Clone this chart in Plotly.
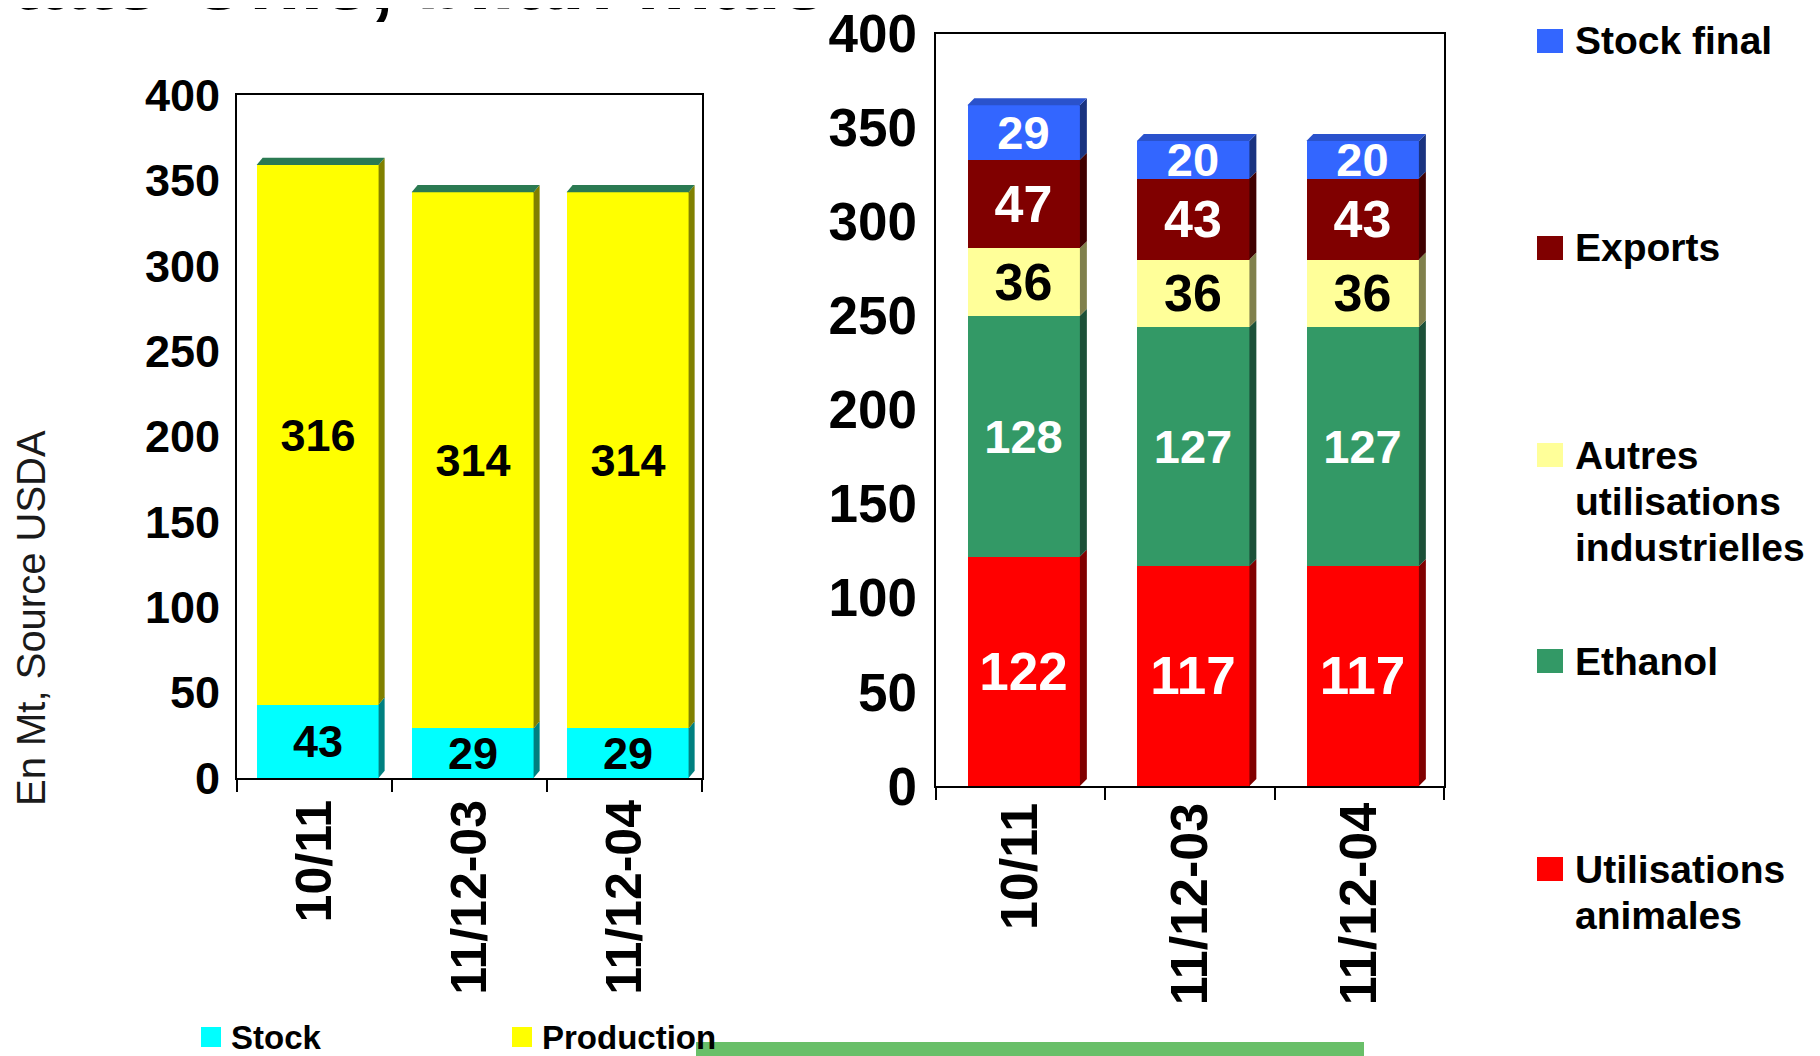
import plotly.graph_objects as go

# la page html garde une marge de 8 px autour de la figure
OFF = 8
W, H = 1820 - OFF, 1056 - OFF

categories = ["10/11", "11/12-03", "11/12-04"]

# gauche : ressources
stock_initial = [43, 29, 29]
production = [316, 314, 314]

# droite : utilisations (du bas vers le haut)
util_animales = [122, 117, 117]
ethanol = [128, 127, 127]
autres_industrielles = [36, 36, 36]
exports = [47, 43, 43]
stock_final = [29, 20, 20]

y_ticks = [0, 50, 100, 150, 200, 250, 300, 350, 400]

FONT = "Liberation Sans, Arial, sans-serif"


def px(x):
    return (x - OFF) / W


def py(y):
    return 1 - (y - OFF) / H


left_series = [
    # nom, valeurs, face, côté, couleur texte, taille texte
    ("Stock", stock_initial, "#00FFFF", "#008080", "black", 45),
    ("Production", production, "#FFFF00", "#808000", "black", 45),
]
right_series = [
    ("Utilisations animales", util_animales, "#FF0000", "#800000", "white", 53),
    ("Ethanol", ethanol, "#339966", "#1C5038", "white", 47),
    ("Autres utilisations industrielles", autres_industrielles, "#FFFF99", "#80804C", "black", 52),
    ("Exports", exports, "#800000", "#400000", "white", 52),
    ("Stock final", stock_final, "#3366FF", "#1A3380", "white", 47),
]

fig = go.Figure()
shapes = []


def add_stack(series, xref, yref, width, shift, dx, dy, top_color):
    base = [0] * len(categories)
    for name, vals, face, side, tcolor, tsize in series:
        fig.add_trace(go.Bar(
            x=list(range(len(categories))),
            y=vals,
            width=width,
            offset=-width / 2 + shift,
            name=name,
            marker=dict(color=face, line=dict(width=0)),
            text=[str(v) for v in vals],
            textposition="inside",
            insidetextanchor="middle",
            textangle=0,
            constraintext="none",
            textfont=dict(family=FONT, size=tsize, color=tcolor, weight="bold"),
            xaxis=xref, yaxis=yref,
            showlegend=False,
        ))
        # face latérale (effet 3D)
        for i, v in enumerate(vals):
            xr = i + shift + width / 2
            b, t = base[i], base[i] + v
            shapes.append(dict(
                type="path", xref=xref, yref=yref,
                path=f"M{xr},{b} L{xr + dx},{b + dy} L{xr + dx},{t + dy} L{xr},{t} Z",
                fillcolor=side, line=dict(width=0), layer="above"))
            base[i] = t
    # face supérieure
    for i, t in enumerate(base):
        xl, xr = i + shift - width / 2, i + shift + width / 2
        shapes.append(dict(
            type="path", xref=xref, yref=yref,
            path=f"M{xl},{t} L{xl + dx},{t + dy} L{xr + dx},{t + dy} L{xr},{t} Z",
            fillcolor=top_color, line=dict(width=0), layer="above"))


add_stack(left_series, "x", "y", 0.787, 0.02, 0.039, 4.3, "#2B7A52")
add_stack(right_series, "x2", "y2", 0.664, 0.02, 0.041, 3.7, "#2A52CC")


def xaxis(domain, anchor, size, standoff):
    return dict(
        domain=domain, anchor=anchor, range=[-0.5, 2.5], automargin=False,
        tickmode="array", tickvals=list(range(len(categories))), ticktext=categories,
        tickangle=-90, ticks="", ticklabelstandoff=standoff, ticklabeloverflow="allow",
        tickfont=dict(family=FONT, size=size, color="black", weight="bold"),
        minor=dict(tickmode="array", tickvals=[-0.5, 0.5, 1.5, 2.5], ticks="outside",
                   ticklen=12, tickwidth=2, tickcolor="black", showgrid=False),
        showline=True, linecolor="black", linewidth=2, mirror=True,
        showgrid=False, zeroline=False, fixedrange=True,
    )


def yaxis(domain, anchor, size):
    return dict(
        domain=domain, anchor=anchor, range=[0, 400], automargin=False,
        tickmode="array", tickvals=y_ticks, ticks="", ticklabelstandoff=6,
        ticklabeloverflow="allow",
        tickfont=dict(family=FONT, size=size, color="black", weight="bold"),
        showline=True, linecolor="black", linewidth=2, mirror=True,
        showgrid=False, zeroline=False, fixedrange=True,
    )


annotations = []

# titre de la diapositive (coupé en haut)
annotations.append(dict(
    text="Etats-Unis, bilan maïs", xref="paper", yref="paper",
    x=px(830), y=py(29), xanchor="right", yanchor="bottom", showarrow=False,
    font=dict(family=FONT, size=84, color="black", weight="bold")))

# titre axe vertical
annotations.append(dict(
    text="En Mt, Source USDA", xref="paper", yref="paper",
    x=px(31), y=py(618), xanchor="center", yanchor="middle", textangle=-90,
    showarrow=False, font=dict(family=FONT, size=40, color="#1a1a1a")))

# légende du bas (graphique de gauche)
bottom_legend = [("Stock", "#00FFFF", 201), ("Production", "#FFFF00", 512)]
for label, color, x0 in bottom_legend:
    shapes.append(dict(type="rect", xref="paper", yref="paper",
                       x0=px(x0), x1=px(x0 + 20), y0=py(1047), y1=py(1027),
                       fillcolor=color, line=dict(width=0)))
    annotations.append(dict(
        text=label, xref="paper", yref="paper", x=px(x0 + 28), y=py(1037),
        xanchor="left", yanchor="middle", showarrow=False,
        font=dict(family=FONT, size=33, color="black", weight="bold")))

# légende de droite
right_legend = [
    ("#3366FF", 41, ["Stock final"]),
    ("#800000", 248, ["Exports"]),
    ("#FFFF99", 455, ["Autres", "utilisations", "industrielles"]),
    ("#339966", 661, ["Ethanol"]),
    ("#FF0000", 869, ["Utilisations", "animales"]),
]
for color, yc, lines in right_legend:
    shapes.append(dict(type="rect", xref="paper", yref="paper",
                       x0=px(1537), x1=px(1563), y0=py(yc + 12), y1=py(yc - 12),
                       fillcolor=color, line=dict(width=0)))
    for k, line in enumerate(lines):
        annotations.append(dict(
            text=line, xref="paper", yref="paper", x=px(1573), y=py(yc + 46 * k),
            xanchor="left", yanchor="middle", showarrow=False,
            font=dict(family=FONT, size=39, color="black", weight="bold")))

# bandeau vert en bas de la diapositive
shapes.append(dict(type="rect", xref="paper", yref="paper",
                   x0=px(696), x1=px(1364), y0=py(1056), y1=py(1042),
                   fillcolor="#69BF69", line=dict(width=0), layer="below"))

fig.update_layout(
    width=W, height=H,
    margin=dict(l=0, r=0, t=0, b=0, autoexpand=False),
    barmode="stack", bargap=0,
    paper_bgcolor="white", plot_bgcolor="white",
    xaxis=xaxis([px(237), px(702)], "y", 50, 0),
    yaxis=yaxis([py(778), py(95)], "x", 45),
    xaxis2=xaxis([px(935.5), px(1444)], "y2", 52, -6),
    yaxis2=yaxis([py(786), py(33.7)], "x2", 53),
    shapes=shapes,
    annotations=annotations,
    showlegend=False,
)

fig.write_html("out.html")
